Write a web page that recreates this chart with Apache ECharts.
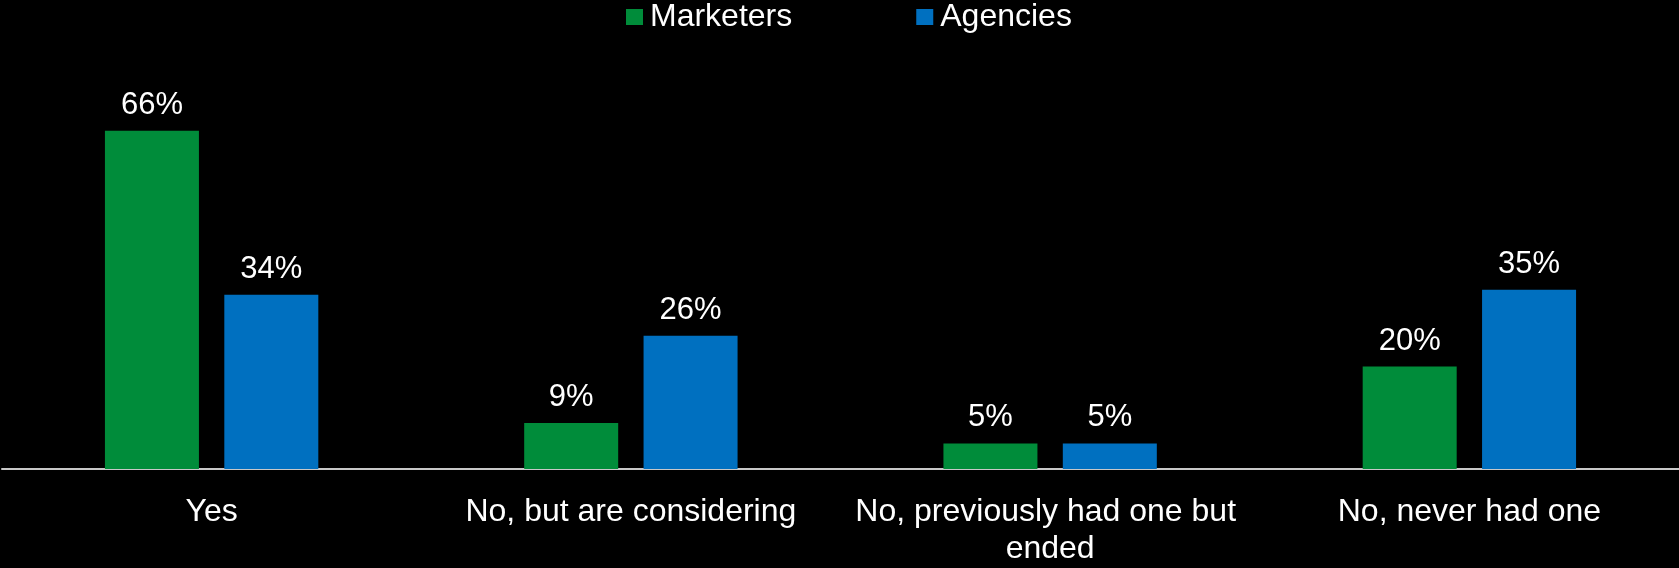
<!DOCTYPE html>
<html>
<head>
<meta charset="utf-8">
<style>html,body{margin:0;padding:0;background:#000;}#c{width:1679px;height:568px;}</style>
<script src="https://cdn.jsdelivr.net/npm/echarts@6/dist/echarts.min.js"></script>
</head>
<body>
<div id="c"></div>
<script>
const categories = ["Yes", "No, but are considering", "No, previously had one but ended", "No, never had one"];
const marketers = [66, 9, 5, 20];
const agencies = [34, 26, 5, 35];
const seriesNames = ["Marketers", "Agencies"];

const chart = echarts.init(document.getElementById('c'));
const font = 'Liberation Sans, Arial, sans-serif';
const lbl = {show: true, position: 'top', distance: 10, color: '#fff', fontSize: 31, fontFamily: font, formatter: '{c}%'};
chart.setOption({
  backgroundColor: '#000',
  animation: false,
  legend: {
    top: 1, left: 626, padding: 0, icon: 'rect', itemWidth: 17, itemHeight: 16, itemGap: 124,
    textStyle: {color: '#fff', fontSize: 32, fontFamily: font, padding: [0, 0, 0, 2]},
    data: seriesNames
  },
  grid: {left: 2, right: 0, top: 59, bottom: 91, containLabel: false},
  xAxis: {
    type: 'category', data: categories,
    axisLine: {lineStyle: {color: '#c8c8c8', width: 2}},
    axisTick: {show: false},
    axisLabel: {color: '#fff', fontSize: 32, fontFamily: font, margin: 25, interval: 0,
      width: 400, overflow: 'break', lineHeight: 37}
  },
  yAxis: {type: 'value', min: 0, max: 80, show: false, splitLine: {show: false}},
  series: [
    {name: seriesNames[0], type: 'bar', data: marketers, barWidth: 94, barGap: '27%',
     itemStyle: {color: '#008C3A'}, label: lbl},
    {name: seriesNames[1], type: 'bar', data: agencies, barWidth: 94,
     itemStyle: {color: '#0070C0'}, label: lbl}
  ]
});
</script>
</body>
</html>
